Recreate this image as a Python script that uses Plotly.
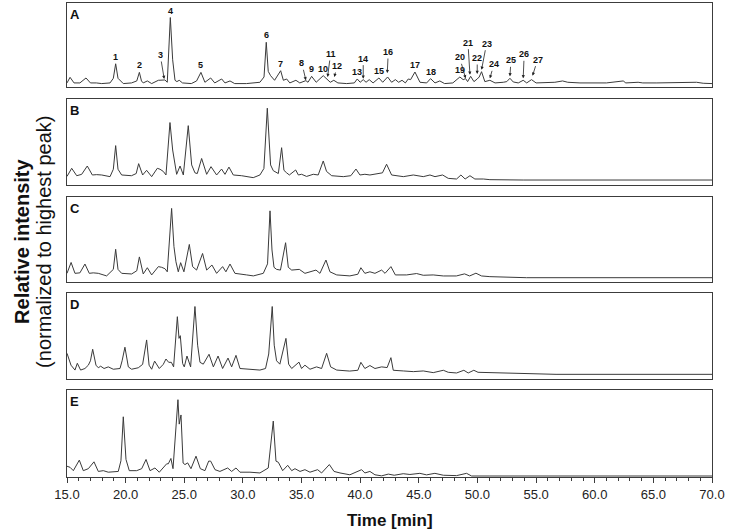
import plotly.graph_objects as go

# ---------------- data ----------------
panel_names = ["A", "B", "C", "D", "E"]

time_A = [15.0, 15.26, 15.6, 16.1, 16.62, 17.0, 17.5, 17.96, 18.67, 18.95, 19.15, 19.35, 19.8, 20.5, 20.95,
          21.17, 21.35, 21.5, 21.85, 22.22, 22.79, 23.05, 23.35, 23.55, 23.81, 24.01, 24.21, 24.37, 24.57,
          24.85, 25.6, 26.05, 26.42, 26.76, 27.25, 27.6, 28.19, 28.47, 28.9, 29.3, 30.3, 31.45, 31.8, 31.99,
          32.16, 32.36, 32.7, 33.22, 33.45, 33.73, 34.0, 34.52, 34.85, 35.37, 35.55, 35.86, 36.25, 36.85,
          37.13, 37.45, 37.75, 38.1, 38.85, 39.5, 39.75, 40.0, 40.26, 40.5, 40.77, 41.1, 41.6, 41.92, 42.34,
          42.68, 43.0, 43.28, 43.57, 43.85, 44.1, 44.3, 44.67, 45.1, 45.67, 46.0, 46.38, 46.79, 47.2, 47.9,
          48.5, 48.78, 48.99, 49.16, 49.42, 49.7, 49.98, 50.15, 50.35, 50.63, 51.06, 51.5, 52.2, 52.5, 52.77,
          53.05, 53.48, 53.9, 54.2, 54.61, 55.0, 55.9, 56.6, 57.26, 57.7, 58.74, 60.2, 61.0, 62.43, 62.65,
          63.7, 64.1, 65.3, 66.7, 68.68, 69.25, 70.0]
int_A = [0.01, 0.095, 0.01, 0.01, 0.085, 0.01, 0.01, 0.0, 0.01, 0.08, 0.30, 0.08, 0.0, 0.01, 0.04,
         0.17, 0.04, 0.01, 0.04, 0.0, 0.05, 0.05, 0.055, 0.02, 1.0, 0.36, 0.05, 0.03, 0.05,
         0.01, 0.0, 0.04, 0.17, 0.02, 0.085, 0.01, 0.07, 0.01, 0.04, 0.0, 0.0, 0.02, 0.1, 0.625,
         0.185, 0.12, 0.05, 0.195, 0.05, 0.07, 0.01, 0.05, 0.01, 0.045, 0.02, 0.11, 0.02, 0.12,
         0.07, 0.02, 0.05, 0.01, 0.0, 0.01, 0.07, 0.02, 0.06, 0.02, 0.06, 0.01, 0.085, 0.02, 0.1,
         0.02, 0.06, 0.02, 0.05, 0.01, 0.07, 0.06, 0.175, 0.02, 0.01, 0.075, 0.01, 0.04, 0.0, 0.01,
         0.10, 0.06, 0.075, 0.03, 0.11, 0.03, 0.07, 0.1, 0.18, 0.03, 0.05, 0.01, 0.02, 0.03, 0.08,
         0.025, 0.01, 0.05, 0.01, 0.06, 0.01, 0.02, 0.02, 0.04, 0.02, 0.01, 0.01, 0.01, 0.04, 0.01,
         0.02, 0.01, 0.01, 0.01, 0.02, 0.005, 0.0]

time_B = [15.0, 15.40, 15.83, 16.25, 16.73, 17.16, 17.53, 17.96, 18.67, 18.95, 19.15, 19.35, 19.66, 20.5,
          20.9, 21.11, 21.45, 21.79, 22.22, 22.7, 22.93, 23.21, 23.44, 23.78, 24.01, 24.21, 24.35, 24.64,
          24.92, 25.34, 25.63, 25.91, 26.11, 26.48, 26.91, 27.28, 27.76, 28.18, 28.47, 28.81, 29.18, 29.89,
          30.88, 31.45, 31.79, 32.08, 32.25, 32.36, 32.59, 32.82, 33.02, 33.30, 33.5, 33.73, 33.96, 34.5,
          34.73, 35.0, 35.43, 36.0, 36.42, 36.85, 37.13, 37.57, 38.56, 39.2, 39.64, 39.98, 40.4, 40.83,
          41.54, 41.9, 42.25, 42.68, 43.68, 44.53, 45.38, 45.95, 46.38, 47.03, 47.51, 48.22, 48.59, 48.95,
          49.36, 49.78, 50.5, 51.06, 53.9, 70.0]
int_B = [0.05, 0.163, 0.06, 0.079, 0.195, 0.07, 0.075, 0.07, 0.047, 0.15, 0.479, 0.15, 0.07, 0.06,
         0.09, 0.228, 0.07, 0.135, 0.047, 0.163, 0.15, 0.12, 0.07, 0.80, 0.418, 0.21, 0.079, 0.195,
         0.07, 0.757, 0.21, 0.1, 0.09, 0.30, 0.079, 0.186, 0.07, 0.153, 0.079, 0.18, 0.07, 0.06,
         0.033, 0.07, 0.16, 1.0, 0.488, 0.21, 0.13, 0.11, 0.09, 0.45, 0.135, 0.1, 0.07, 0.14,
         0.07, 0.08, 0.05, 0.08, 0.07, 0.265, 0.12, 0.06, 0.047, 0.06, 0.153, 0.07, 0.08, 0.07,
         0.093, 0.1, 0.22, 0.07, 0.047, 0.07, 0.047, 0.07, 0.047, 0.07, 0.023, 0.014, 0.07, 0.014,
         0.06, 0.014, 0.014, 0.005, 0.0, 0.0]

time_C = [15.0, 15.35, 15.68, 16.1, 16.53, 16.9, 17.24, 17.67, 18.38, 18.95, 19.15, 19.35, 19.66, 20.51,
          20.95, 21.17, 21.5, 21.85, 22.22, 22.79, 23.07, 23.35, 23.55, 23.92, 24.12, 24.29, 24.49, 24.69,
          24.97, 25.43, 25.71, 26.05, 26.56, 26.91, 27.36, 27.76, 28.27, 28.55, 28.9, 29.32, 30.32, 30.89,
          31.74, 32.1, 32.31, 32.48, 32.65, 32.87, 33.2, 33.64, 33.87, 34.16, 34.81, 35.29, 36.23, 36.57,
          37.08, 37.42, 38.0, 39.12, 39.8, 40.06, 40.4, 40.83, 41.26, 41.83, 42.12, 42.62, 43.0, 43.96,
          44.81, 45.38, 46.23, 47.09, 48.2, 48.9, 49.33, 49.87, 50.35, 51.06, 54.19, 70.0]
int_C = [0.063, 0.22, 0.063, 0.07, 0.197, 0.063, 0.07, 0.063, 0.026, 0.12, 0.41, 0.12, 0.063, 0.054,
         0.1, 0.30, 0.054, 0.144, 0.04, 0.16, 0.15, 0.13, 0.085, 1.0, 0.45, 0.23, 0.085, 0.217,
         0.085, 0.48, 0.16, 0.11, 0.35, 0.11, 0.183, 0.063, 0.16, 0.085, 0.197, 0.063, 0.04, 0.026,
         0.063, 0.2, 0.965, 0.40, 0.15, 0.12, 0.11, 0.505, 0.15, 0.11, 0.12, 0.063, 0.11, 0.063,
         0.255, 0.085, 0.04, 0.026, 0.05, 0.144, 0.063, 0.085, 0.063, 0.11, 0.063, 0.16, 0.04, 0.04,
         0.06, 0.035, 0.04, 0.025, 0.025, 0.055, 0.025, 0.065, 0.025, 0.015, 0.0, 0.0]

time_D = [15.0, 15.34, 15.68, 15.88, 16.16, 16.53, 16.82, 17.0, 17.19, 17.47, 17.67, 17.87, 18.16, 18.52,
          18.95, 19.52, 19.7, 19.94, 20.23, 20.51, 21.08, 21.45, 21.79, 22.0, 22.22, 22.47, 22.87, 23.21,
          23.44, 23.67, 23.9, 24.09, 24.41, 24.55, 24.66, 24.86, 25.0, 25.23, 25.54, 25.91, 26.14, 26.34,
          26.62, 27.11, 27.48, 27.88, 28.27, 28.73, 29.04, 29.41, 29.75, 30.6, 31.45, 31.93, 32.2, 32.5,
          32.67, 32.87, 33.15, 33.67, 33.9, 34.16, 34.78, 35.0, 35.29, 35.72, 36.28, 36.71, 37.14, 37.48,
          38.0, 39.1, 39.8, 40.06, 40.4, 40.83, 41.26, 41.83, 42.3, 42.62, 42.82, 43.68, 44.53, 45.38,
          46.23, 47.09, 47.51, 48.22, 48.84, 49.21, 49.69, 50.05, 51.9, 54.46, 56.7, 70.0]
int_D = [0.31, 0.135, 0.063, 0.163, 0.063, 0.086, 0.135, 0.2, 0.37, 0.135, 0.097, 0.12, 0.086, 0.11,
         0.075, 0.086, 0.2, 0.40, 0.11, 0.075, 0.097, 0.147, 0.507, 0.135, 0.075, 0.195, 0.086, 0.147,
         0.226, 0.177, 0.177, 0.11, 0.85, 0.53, 0.57, 0.16, 0.11, 0.27, 0.11, 1.0, 0.43, 0.177,
         0.15, 0.296, 0.11, 0.27, 0.086, 0.24, 0.11, 0.28, 0.086, 0.075, 0.063, 0.086, 0.3, 1.0,
         0.43, 0.2, 0.15, 0.53, 0.15, 0.086, 0.18, 0.086, 0.135, 0.075, 0.11, 0.086, 0.31, 0.11,
         0.063, 0.048, 0.06, 0.177, 0.086, 0.13, 0.086, 0.11, 0.1, 0.246, 0.06, 0.05, 0.04, 0.05,
         0.025, 0.06, 0.03, 0.02, 0.06, 0.02, 0.06, 0.03, 0.02, 0.005, 0.0, 0.0]

time_E = [15.0, 15.26, 15.54, 16.05, 16.39, 16.82, 17.3, 17.67, 18.1, 18.52, 19.37, 19.6, 19.8, 20.03,
          20.31, 20.94, 21.37, 21.74, 22.08, 22.5, 22.87, 23.5, 23.64, 23.86, 24.04, 24.46, 24.57, 24.72,
          24.9, 25.06, 25.29, 25.57, 26.0, 26.37, 26.76, 27.08, 27.25, 27.62, 28.04, 28.7, 29.04, 29.41,
          29.75, 30.6, 31.45, 32.16, 32.59, 32.82, 33.02, 33.39, 33.82, 34.16, 34.44, 34.87, 35.29, 35.72,
          36.37, 36.71, 37.37, 37.77, 38.28, 39.12, 40.12, 40.4, 40.83, 41.26, 41.83, 42.4, 42.9, 43.67,
          44.24, 45.09, 45.66, 46.37, 47.09, 48.22, 49.07, 49.5, 51.06, 53.9, 70.0]
int_E = [0.128, 0.114, 0.07, 0.208, 0.07, 0.096, 0.186, 0.06, 0.07, 0.05, 0.06, 0.2, 0.776, 0.217,
         0.07, 0.07, 0.096, 0.217, 0.07, 0.105, 0.05, 0.16, 0.16, 0.23, 0.096, 1.0, 0.68, 0.80,
         0.17, 0.15, 0.172, 0.096, 0.26, 0.096, 0.07, 0.195, 0.195, 0.083, 0.06, 0.105, 0.06, 0.105,
         0.05, 0.05, 0.04, 0.105, 0.72, 0.195, 0.18, 0.07, 0.14, 0.07, 0.096, 0.06, 0.083, 0.05,
         0.083, 0.04, 0.15, 0.06, 0.04, 0.016, 0.083, 0.04, 0.06, 0.016, 0.002, 0.025, 0.01, 0.03,
         0.02, 0.035, 0.015, 0.035, 0.01, 0.005, 0.035, 0.0, 0.0, 0.0, 0.0]

# peak labels in panel A
peak_ids = [str(i) for i in range(1, 28)]
peak_times = [19.15, 21.17, 23.29, 23.81, 26.42, 31.99, 33.22, 35.37, 35.86, 36.85, 37.22, 37.79, 39.75,
              40.26, 41.6, 42.31, 44.67, 46.0, 48.5, 48.99, 49.36, 49.98, 50.35, 51.06, 52.77, 53.9, 54.7]
peak_heights = [0.30, 0.17, 0.07, 1.0, 0.17, 0.625, 0.195, 0.05, 0.11, 0.12, 0.10, 0.10, 0.07,
                0.075, 0.085, 0.16, 0.175, 0.075, 0.10, 0.08, 0.135, 0.145, 0.21, 0.08, 0.11, 0.08, 0.12]

x_ticks = [15.0, 20.0, 25.0, 30.0, 35.0, 40.0, 45.0, 50.0, 55.0, 60.0, 65.0, 70.0]
x_title = "Time [min]"
y_title = "Relative intensity"
y_subtitle = "(normalized to highest peak)"

# ---------------- layout / styling ----------------
times = [time_A, time_B, time_C, time_D, time_E]
ints = [int_A, int_B, int_C, int_D, int_E]
domains = [[0.823, 1.0], [0.617, 0.797], [0.412, 0.591], [0.206, 0.388], [0.0, 0.184]]
yranges = [[-0.05, 1.22], [-0.063, 1.125], [-0.058, 1.167], [-0.074, 1.198], [-0.013, 1.13]]

# label offsets (px) for arrowed labels; others sit right above their peak
label_offsets = {"3": (-4, -24), "8": (-4, -17), "11": (3, -23), "12": (3, -11), "14": (0, -20),
                 "16": (1, -21), "20": (-6, -21), "21": (-2, -32), "22": (0, -16), "23": (5, -26),
                 "24": (4, -14), "25": (1, -16), "26": (1, -24), "27": (5, -16)}

LINE = "#3a3a3a"
BOX = "#3c3c3c"
FONT = "Liberation Sans, Arial, sans-serif"

fig = go.Figure()
for i in range(5):
    sfx = "" if i == 0 else str(i + 1)
    fig.add_trace(go.Scatter(x=times[i], y=ints[i], mode="lines",
                             line=dict(color=LINE, width=1), xaxis="x" + sfx, yaxis="y" + sfx,
                             hoverinfo="skip", showlegend=False))

layout = dict(width=733, height=532, margin=dict(l=67, r=21, t=3, b=55),
              plot_bgcolor="white", paper_bgcolor="white", showlegend=False,
              font=dict(family=FONT, color="#222"))
for i in range(5):
    sfx = "" if i == 0 else str(i + 1)
    bottom = (i == 4)
    xa = dict(domain=[0, 1], anchor="y" + sfx, range=[15, 70], showline=True, mirror=True,
              linecolor=BOX, linewidth=1, showgrid=False, zeroline=False,
              showticklabels=bottom, ticks="outside" if bottom else "")
    if i > 0:
        xa["matches"] = "x"
    if bottom:
        xa.update(tickvals=x_ticks, ticktext=["%.1f" % v for v in x_ticks], ticklen=5, tickwidth=1,
                  tickcolor=BOX,
                  minor=dict(dtick=1, tick0=15, ticks="outside", ticklen=3, tickcolor=BOX, tickwidth=1),
                  tickfont=dict(family=FONT, size=13, color="#222"))
    ya = dict(domain=domains[i], anchor="x" + sfx, range=yranges[i], showline=True, mirror=True,
              linecolor=BOX, linewidth=1, showgrid=False, zeroline=False, showticklabels=False, ticks="")
    layout["xaxis" + sfx] = xa
    layout["yaxis" + sfx] = ya
fig.update_layout(**layout)

ann = []
for i, name in enumerate(panel_names):
    ann.append(dict(text="<b>%s</b>" % name, xref="paper", yref="paper", x=0, y=domains[i][1],
                    xanchor="left", yanchor="top", xshift=1, yshift=-2, showarrow=False,
                    font=dict(size=13, family=FONT, color="#111")))

for pid, pt, ph in zip(peak_ids, peak_times, peak_heights):
    if pid in label_offsets:
        ax, ay = label_offsets[pid]
        ann.append(dict(text="<b>%s</b>" % pid, x=pt, y=ph, xref="x", yref="y", showarrow=True,
                        ax=ax, ay=ay, arrowhead=2, arrowsize=0.8, arrowwidth=0.8, arrowcolor="#222",
                        standoff=0, startstandoff=0,
                        font=dict(size=9, family=FONT, color="#111")))
    else:
        ann.append(dict(text="<b>%s</b>" % pid, x=pt, y=ph, xref="x", yref="y", showarrow=False,
                        yanchor="bottom", yshift=0, font=dict(size=9, family=FONT, color="#111")))

ann.append(dict(text="<b>%s</b>" % x_title, xref="paper", yref="paper", x=0.5, y=0, yanchor="middle",
                yshift=-43, showarrow=False, font=dict(size=17, family=FONT, color="#111")))
ann.append(dict(text="<b>%s</b>" % y_title, xref="paper", yref="paper", x=0, y=0.496, xanchor="center",
                yanchor="middle", xshift=-45, textangle=-90, showarrow=False,
                font=dict(size=20, family=FONT, color="#111")))
ann.append(dict(text=y_subtitle, xref="paper", yref="paper", x=0, y=0.496, xanchor="center",
                yanchor="middle", xshift=-23, textangle=-90, showarrow=False,
                font=dict(size=20, family=FONT, color="#111")))
fig.update_layout(annotations=ann)

fig.write_html("out.html", config={"displayModeBar": False},
               post_script="document.body.style.margin='0';document.body.style.padding='0';")
